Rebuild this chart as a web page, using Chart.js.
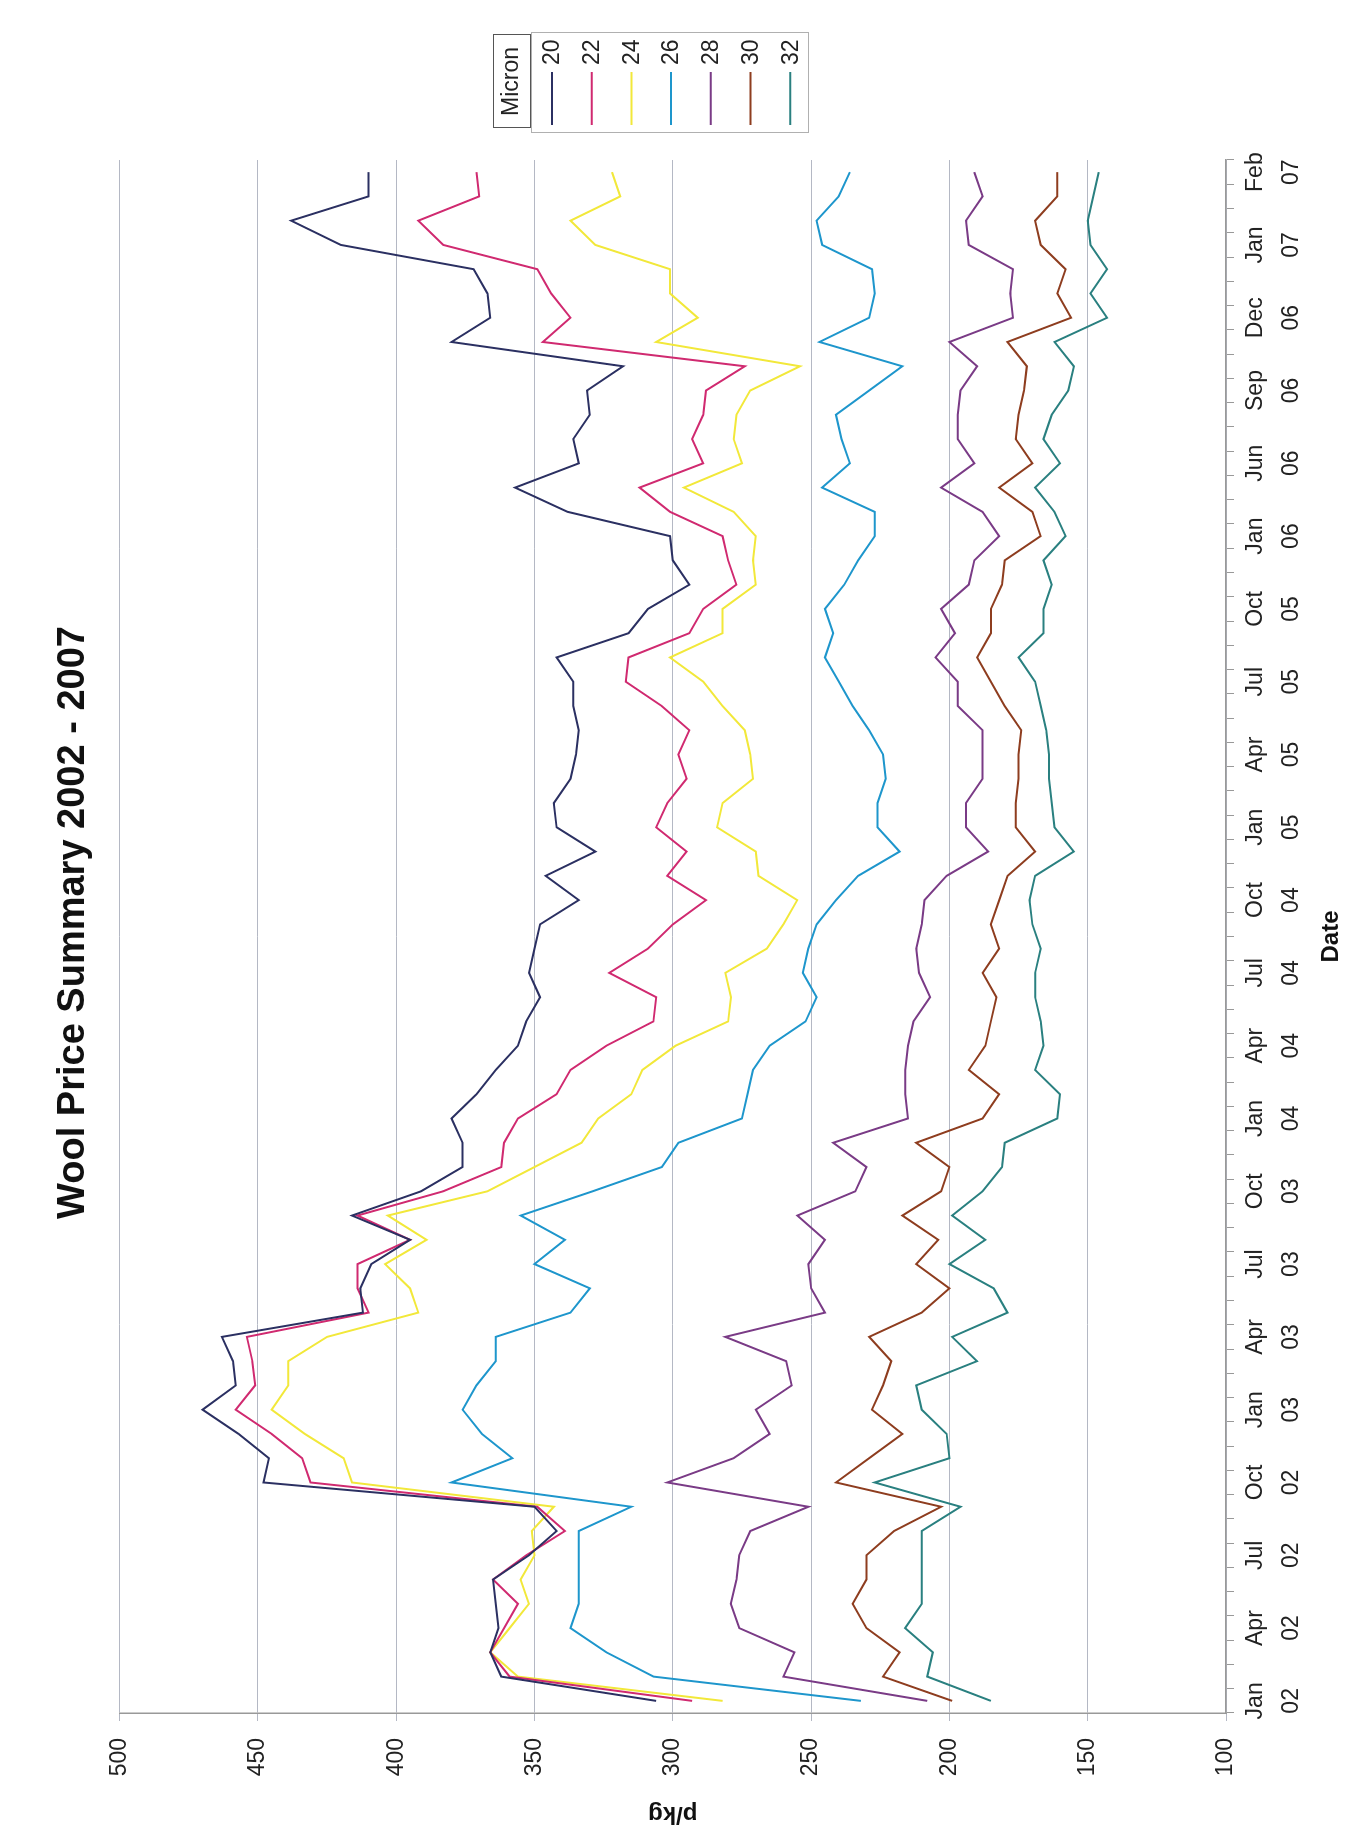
<!DOCTYPE html>
<html>
<head>
<meta charset="utf-8">
<title>Wool Price Summary 2002 - 2007</title>
<script src="https://cdn.jsdelivr.net/npm/chart.js@4.4.1/dist/chart.umd.min.js"></script>
<style>
  html, body { margin: 0; padding: 0; background: #ffffff; width: 1364px; height: 1845px; overflow: hidden; }
  #wrap { position: absolute; left: 0; top: 0; width: 1845px; height: 1364px;
          transform-origin: 0 0; transform: translateY(1845px) rotate(-90deg); }
  canvas { display: block; }
</style>
</head>
<body>
<div id="wrap"><canvas id="c" width="1845" height="1364"></canvas></div>
<script>
// ---- Data ----
const categories = [
  "Jan 02","Feb 02","Mar 02","Apr 02","May 02","Jun 02","Jul 02","Aug 02","Sep 02","Oct 02","Nov 02","Dec 02",
  "Jan 03","Feb 03","Mar 03","Apr 03","May 03","Jun 03","Jul 03","Aug 03","Sep 03","Oct 03","Nov 03","Dec 03",
  "Jan 04","Feb 04","Mar 04","Apr 04","May 04","Jun 04","Jul 04","Aug 04","Sep 04","Oct 04","Nov 04","Dec 04",
  "Jan 05","Feb 05","Mar 05","Apr 05","May 05","Jun 05","Jul 05","Aug 05","Sep 05","Oct 05","Nov 05","Dec 05",
  "Jan 06","Feb 06","Apr 06","Jun 06","Jul 06","Aug 06","Sep 06","Oct 06","Nov 06","Dec 06","Dec 06","Dec 06",
  "Jan 07","Jan 07","Feb 07","Feb 07"
];
const seriesNames = ["20","22","24","26","28","30","32"];
const micron20 = [306,362,366,363,364,365,352,342,350, 448,446,457,470,458,459,463,412,413,
  409,395,416,391,376,376,380,371,364, 356,353,348,352,350,348,334,346,328,342,
  343,337,335,334,336,336,342,316,309, 294,300,301,338,357,334,336,330,331,
  318,380,366,367,372,420,438,410,410];
const micron22 = [293,359,366,361,356,365,353,339,349, 431,434,445,458,451,452,454,410,414,
  414,395,414,383,362,361,356,342,337, 324,307,306,323,309,300,288,302,295,306,
  302,295,298,294,304,317,316,294,289, 277,280,282,301,312,289,293,289,288,
  274,347,337,344,349,383,392,370,371];
const micron24 = [282,356,366,359,352,355,350,351,343, 416,419,433,445,439,439,425,392,395,
  404,389,403,367,350,333,327,315,311, 299,280,279,281,266,260,255,269,270,284,
  282,271,272,274,282,289,301,282,282, 270,271,270,278,296,275,278,277,272,
  254,306,291,301,301,328,337,319,322];
const micron26 = [232,307,324,337,334,334,334,334,315, 380,358,369,376,371,364,364,337,330,
  350,339,355,329,304,298,275,273,271, 265,252,248,253,251,248,241,233,218,226,
  226,223,224,229,235,240,245,242,245, 238,233,227,227,246,236,239,241,229,
  217,247,229,227,228,246,248,240,236];
const micron28 = [208,260,256,276,279,277,276,272,251, 302,278,265,270,257,259,281,245,250,
  251,245,255,234,230,242,215,216,216, 215,213,207,211,212,210,209,201,186,194,
  194,188,188,188,197,197,205,198,203, 193,191,182,188,203,191,197,197,196,
  190,200,177,178,177,193,194,188,191];
const micron30 = [199,224,218,230,235,230,230,220,203, 241,229,217,228,224,221,229,210,200,
  212,204,217,203,200,212,188,182,193, 187,185,183,188,182,185,182,179,169,176,
  176,175,175,174,180,185,190,185,185, 181,180,167,170,182,170,176,175,173,
  172,179,156,161,158,167,169,161,161];
const micron32 = [185,208,206,216,210,210,210,210,196, 227,200,201,210,212,190,199,179,184,
  200,187,199,188,181,180,161,160,169, 166,167,169,169,167,170,171,169,155,162,
  163,164,164,165,167,169,175,166,166, 163,166,158,162,169,160,166,163,157,
  155,162,143,149,143,149,150,148,146];
const valueTicks = [100,150,200,250,300,350,400,450,500];
const labelEvery = 3;

// ---- Styling ----
const colors = ["#2b3062","#d02a70","#f2e83a","#1e96cc","#7a3b86","#8e3d1f","#2a8080"];
const allSeries = [micron20, micron22, micron24, micron26, micron28, micron30, micron32];
const FONT = "'Liberation Sans', Arial, sans-serif";

const legendPlugin = {
  id: 'micronLegend',
  afterDraw(chart) {
    const ctx = chart.ctx;
    ctx.save();
    // "Micron" title box
    ctx.strokeStyle = '#555555';
    ctx.lineWidth = 1;
    ctx.strokeRect(1717.5, 493.5, 93, 37);
    ctx.fillStyle = '#222222';
    ctx.font = "23px " + FONT;
    ctx.textAlign = 'center';
    ctx.textBaseline = 'middle';
    ctx.fillText('Micron', 1763.5, 512);
    // entries box
    ctx.strokeStyle = '#b0b0b0';
    ctx.strokeRect(1712.5, 531.5, 100, 277);
    ctx.textAlign = 'left';
    chart.data.datasets.forEach((ds, i) => {
      const y = 552 + 39.7 * i;
      ctx.strokeStyle = ds.borderColor;
      ctx.lineWidth = 2;
      ctx.beginPath();
      ctx.moveTo(1720, y);
      ctx.lineTo(1773, y);
      ctx.stroke();
      ctx.fillStyle = '#222222';
      ctx.fillText(ds.label, 1780, y + 1);
    });
    ctx.restore();
  }
};

new Chart(document.getElementById('c'), {
  type: 'line',
  data: {
    labels: categories,
    datasets: seriesNames.map((name, i) => ({
      label: name,
      data: allSeries[i],
      borderColor: colors[i],
      backgroundColor: colors[i],
      borderWidth: 2,
      pointRadius: 0,
      tension: 0,
      fill: false
    }))
  },
  options: {
    responsive: false,
    devicePixelRatio: 1,
    animation: false,
    layout: { padding: { left: 0, right: 0, top: 0, bottom: 0 } },
    plugins: {
      legend: { display: false },
      tooltip: { enabled: false },
      title: {
        display: true,
        text: 'Wool Price Summary 2002 - 2007',
        color: '#111111',
        font: { family: FONT, size: 38, weight: 'bold', lineHeight: 1.2 },
        padding: { top: 51, bottom: 23 }
      }
    },
    scales: {
      x: {
        type: 'category',
        offset: true,
        grid: { display: true, drawOnChartArea: false, drawTicks: true, tickLength: 8, color: '#999999', offset: true },
        border: { display: true, color: '#999999', width: 1.5 },
        ticks: {
          autoSkip: false, maxRotation: 0, minRotation: 0, padding: 4,
          color: '#222222',
          font: { family: FONT, size: 23, lineHeight: 1.55 },
          callback: function (value, index) {
            return index % labelEvery === 0 ? this.getLabelForValue(value).split(' ') : '';
          }
        },
        title: { display: true, text: 'Date', color: '#111111',
                 font: { family: FONT, size: 24, weight: 'bold', lineHeight: 1.2 },
                 padding: { top: 0, bottom: 18 } },
        afterFit(scale) { scale.height = 138; }
      },
      y: {
        min: 100, max: 500,
        afterBuildTicks(scale) { scale.ticks = valueTicks.map(v => ({ value: v })); },
        grid: { color: '#b4b8c4', lineWidth: 1, drawTicks: true, tickLength: 8 },
        border: { display: true, color: '#999999', width: 1.5 },
        ticks: { padding: 17, color: '#222222', font: { family: FONT, size: 23 } },
        title: { display: true, text: 'p/kg', color: '#111111',
                 font: { family: FONT, size: 24, weight: 'bold', lineHeight: 1.2 },
                 padding: { top: 17, bottom: 0 } },
        afterFit(scale) { scale.width = 132; }
      },
      legendSpace: {
        type: 'linear',
        position: 'right',
        display: true,
        grid: { display: false, drawTicks: false },
        border: { display: false },
        ticks: { display: false },
        afterFit(scale) { scale.width = 160; }
      }
    }
  },
  plugins: [legendPlugin]
});
</script>
</body>
</html>
